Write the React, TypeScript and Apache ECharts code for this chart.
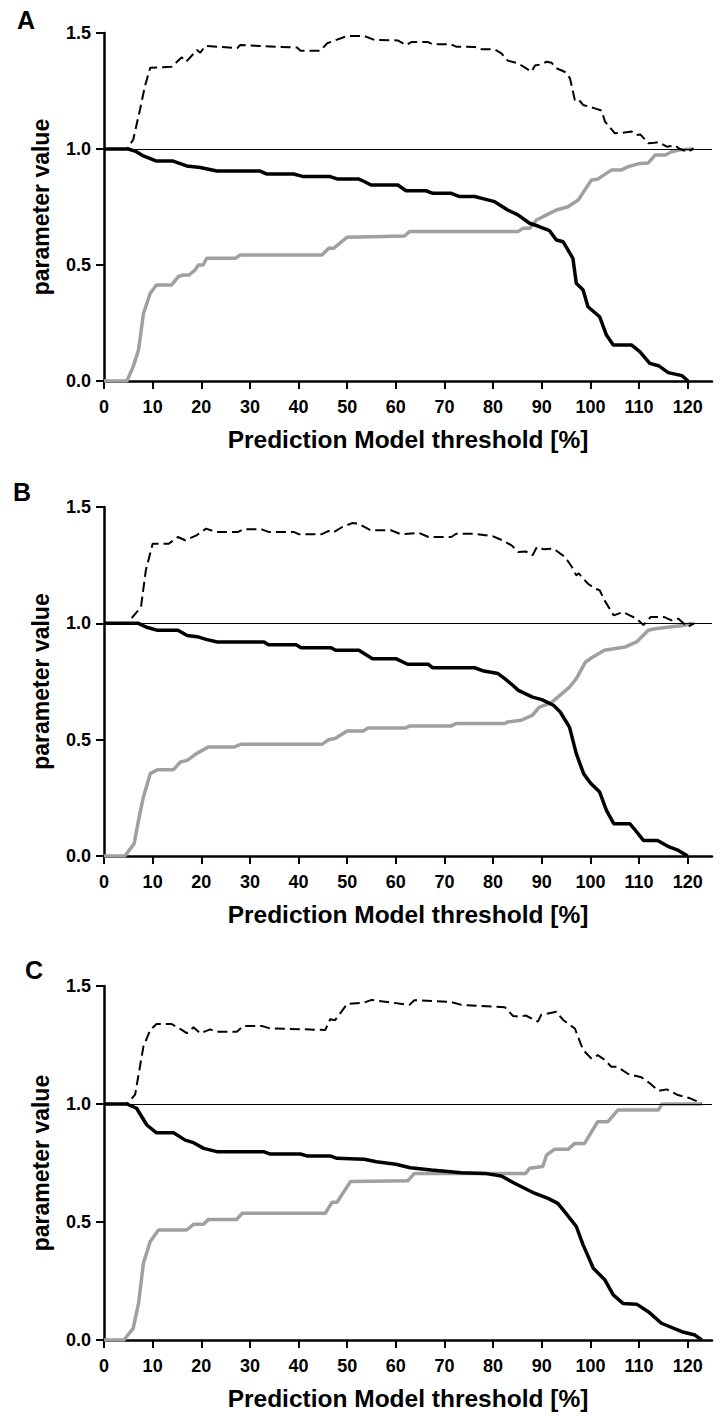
import React, { useEffect, useRef } from "react";
import * as echarts from "echarts";

// ---------- tick labels / categories ----------
const xTicks = [0, 10, 20, 30, 40, 50, 60, 70, 80, 90, 100, 110, 120];
const yTicks = [0, 0.5, 1.0, 1.5];
const panelLabels = ["A", "B", "C"];
const xTitle = "Prediction Model threshold [%]";
const yTitle = "parameter value";

// ---------- Panel A ----------
const aDashX = [0, 4.7, 6, 7.4, 8.4, 9.5, 13.9, 16, 16.9, 19.1, 19.8, 20.8, 27.4, 28, 39.7, 40.4, 44.5, 45.9, 50, 53.5, 55.6, 60.4, 62.1, 63.2, 66.6, 67.6, 71.4, 72.4, 76.2, 77.2, 80.3, 81.7, 83, 85.1, 87.9, 88.6, 89.9, 91, 92, 93, 94.7, 95.8, 96.8, 97.5, 98.5, 100.9, 102.3, 103, 105, 106.5, 108.5, 109.5, 110.3, 111.9, 113.2, 114, 115.7, 117.4, 118.4, 120.1, 121.2];
const aDashY = [1, 1, 1.04, 1.17, 1.27, 1.35, 1.355, 1.395, 1.376, 1.427, 1.415, 1.444, 1.435, 1.448, 1.437, 1.424, 1.424, 1.456, 1.487, 1.487, 1.47, 1.468, 1.448, 1.461, 1.461, 1.451, 1.451, 1.441, 1.44, 1.43, 1.43, 1.412, 1.381, 1.37, 1.333, 1.36, 1.365, 1.376, 1.372, 1.348, 1.333, 1.305, 1.211, 1.215, 1.19, 1.175, 1.166, 1.118, 1.068, 1.07, 1.075, 1.06, 1.062, 1.025, 1.027, 1.03, 1.01, 1.015, 1.0, 0.988, 1.003];
const aBlackX = [0, 5, 6.5, 8.1, 10.8, 14.2, 17, 19.8, 23.2, 32.1, 33.5, 39, 41, 46.5, 47.9, 52.3, 53.5, 54.9, 60.4, 62.1, 66.2, 67.6, 71.4, 73.1, 76.2, 78.3, 80.3, 83, 85.1, 87.5, 89.2, 91.6, 93, 94.4, 96.4, 97.1, 98.5, 99.5, 101.9, 103.3, 104.7, 108.5, 110.2, 112.2, 114, 116, 118.8, 120.1];
const aBlackY = [1, 1, 0.99, 0.97, 0.948, 0.948, 0.927, 0.92, 0.905, 0.905, 0.892, 0.892, 0.881, 0.881, 0.871, 0.871, 0.86, 0.845, 0.845, 0.82, 0.82, 0.809, 0.809, 0.795, 0.795, 0.784, 0.773, 0.737, 0.716, 0.68, 0.668, 0.648, 0.608, 0.6, 0.529, 0.421, 0.392, 0.32, 0.277, 0.198, 0.155, 0.155, 0.126, 0.076, 0.066, 0.036, 0.023, 0];
const aGrayX = [0, 4.7, 6, 7.1, 8.1, 9.5, 10.8, 13.9, 15.3, 16.3, 17.5, 18.7, 19.4, 20.4, 21.1, 27, 28, 44.8, 46.2, 47.2, 50, 61.8, 62.8, 85.1, 86.1, 87.5, 88.9, 91, 93, 95.4, 97.5, 100.2, 101.5, 104.3, 106.3, 107.8, 110.2, 111.9, 113.3, 115.4, 116.7, 118.4, 121.2];
const aGrayY = [0, 0, 0.062, 0.134, 0.29, 0.378, 0.414, 0.414, 0.45, 0.457, 0.457, 0.478, 0.5, 0.5, 0.529, 0.529, 0.543, 0.543, 0.572, 0.572, 0.62, 0.625, 0.644, 0.644, 0.658, 0.658, 0.694, 0.716, 0.737, 0.751, 0.78, 0.866, 0.87, 0.909, 0.909, 0.924, 0.938, 0.94, 0.974, 0.974, 0.988, 0.997, 1.0];

// ---------- Panel B ----------
const bDashX = [0, 4.8, 7.6, 8.6, 10, 13.3, 15.2, 16.7, 19, 21, 22.9, 27.6, 28.6, 32.4, 33.8, 39, 40, 44.8, 46.2, 47.1, 49, 51, 52.4, 54.8, 59, 61, 64.8, 66.7, 71.4, 72.4, 76.2, 80, 81.9, 83.8, 85.2, 86.7, 88.1, 89, 90.5, 92.4, 94.8, 96.2, 97.1, 97.6, 99.5, 101, 101.9, 102.9, 104.8, 106.7, 108.1, 109.5, 110.9, 112.4, 115.2, 116.7, 118.1, 120, 121.4];
const bDashY = [1, 1, 1.07, 1.228, 1.342, 1.342, 1.371, 1.357, 1.378, 1.407, 1.393, 1.393, 1.404, 1.404, 1.393, 1.393, 1.383, 1.383, 1.397, 1.39, 1.414, 1.431, 1.428, 1.4, 1.4, 1.383, 1.388, 1.371, 1.371, 1.385, 1.385, 1.374, 1.357, 1.335, 1.307, 1.309, 1.292, 1.328, 1.318, 1.321, 1.285, 1.242, 1.206, 1.215, 1.17, 1.149, 1.142, 1.099, 1.034, 1.049, 1.034, 1.02, 0.993, 1.027, 1.027, 1.013, 1.02, 0.984, 1.001];
const bBlackX = [0, 7.1, 8.6, 11, 15.2, 17.1, 19.5, 21, 23.3, 32.9, 33.8, 39.5, 40.5, 46.7, 47.6, 52.4, 55.2, 60, 62.4, 66.7, 67.6, 76.2, 78.1, 81, 82.4, 83.8, 85.2, 88.1, 90, 92.4, 93.8, 95.7, 97.1, 98.6, 100, 101.9, 103.3, 104.8, 108.1, 109, 110.9, 113.8, 116.2, 118.1, 120];
const bBlackY = [1, 1, 0.984, 0.97, 0.97, 0.948, 0.941, 0.931, 0.92, 0.92, 0.908, 0.908, 0.895, 0.895, 0.884, 0.884, 0.848, 0.848, 0.824, 0.824, 0.809, 0.809, 0.795, 0.784, 0.762, 0.738, 0.712, 0.683, 0.672, 0.648, 0.619, 0.554, 0.44, 0.354, 0.314, 0.275, 0.196, 0.139, 0.139, 0.117, 0.067, 0.067, 0.039, 0.024, 0];
const bGrayX = [0, 4.3, 6.2, 7.1, 8.1, 9.5, 11, 14.3, 15.7, 17.1, 19, 21.4, 26.7, 28.1, 44.8, 46.2, 47.5, 50, 53.3, 54.3, 61.9, 62.9, 71.4, 72.4, 82.4, 82.9, 85.7, 88.1, 89.5, 91.9, 93.3, 95.7, 97.1, 99, 100.5, 102.9, 104.8, 107.1, 109.5, 111.9, 113.3, 116.2, 119, 121];
const bGrayY = [0, 0, 0.053, 0.153, 0.254, 0.354, 0.371, 0.371, 0.404, 0.411, 0.44, 0.468, 0.468, 0.48, 0.48, 0.5, 0.505, 0.537, 0.537, 0.55, 0.55, 0.559, 0.559, 0.569, 0.569, 0.576, 0.583, 0.605, 0.64, 0.658, 0.683, 0.726, 0.762, 0.834, 0.855, 0.884, 0.891, 0.898, 0.92, 0.97, 0.977, 0.984, 0.991, 1.0];

// ---------- Panel C ----------
const cDashX = [0, 4.7, 6.4, 8.1, 9.5, 10.8, 13.9, 16, 17, 18.4, 19.8, 21.8, 23.2, 27.3, 28.7, 32.4, 34.2, 45.5, 46.5, 47.5, 50, 53.5, 55, 62.8, 63.8, 71.4, 73.5, 82.4, 84.1, 85.5, 86.7, 89.2, 89.9, 93, 94.4, 96.8, 98.5, 100.2, 101.5, 103, 104.3, 105.5, 107.8, 110.5, 112.2, 114, 115.7, 118, 120.5, 122.9];
const cDashY = [1, 1, 1.04, 1.243, 1.314, 1.339, 1.339, 1.314, 1.3, 1.325, 1.299, 1.316, 1.306, 1.306, 1.331, 1.331, 1.32, 1.314, 1.359, 1.355, 1.424, 1.43, 1.441, 1.42, 1.44, 1.432, 1.42, 1.41, 1.373, 1.37, 1.375, 1.349, 1.378, 1.391, 1.356, 1.32, 1.229, 1.193, 1.207, 1.186, 1.158, 1.158, 1.127, 1.113, 1.088, 1.056, 1.062, 1.038, 1.024, 1.003];
const cBlackX = [0, 4.7, 6.7, 8.8, 10.8, 14.3, 16.7, 18.4, 20.5, 23.2, 32.8, 34.2, 40.4, 41.7, 46.5, 47.9, 53.5, 56, 60, 63, 67.3, 73.5, 78.3, 81.7, 84.4, 88.5, 91.3, 93.3, 94.7, 97.1, 98.5, 100.6, 103, 104.7, 106.7, 109.5, 111.9, 114.6, 118.8, 121.5, 122.9];
const cBlackY = [1, 1, 0.982, 0.911, 0.878, 0.878, 0.847, 0.836, 0.812, 0.798, 0.798, 0.788, 0.788, 0.78, 0.78, 0.77, 0.766, 0.755, 0.745, 0.73, 0.72, 0.709, 0.706, 0.695, 0.664, 0.622, 0.6, 0.579, 0.544, 0.481, 0.403, 0.304, 0.254, 0.191, 0.155, 0.152, 0.12, 0.071, 0.035, 0.021, 0];
const cGrayX = [0, 4.1, 6, 7.1, 8.1, 9.5, 11.2, 17, 18.4, 20.4, 21.5, 27.3, 28.4, 45.5, 46.9, 47.9, 50.7, 62.5, 63.8, 86.7, 87.5, 90.2, 91, 92.6, 95.4, 96.8, 98.8, 101.5, 103.6, 105.7, 114, 114.7, 122.9];
const cGrayY = [0, 0, 0.049, 0.155, 0.325, 0.417, 0.466, 0.466, 0.49, 0.49, 0.511, 0.511, 0.537, 0.537, 0.584, 0.584, 0.672, 0.675, 0.706, 0.706, 0.728, 0.735, 0.784, 0.808, 0.808, 0.833, 0.833, 0.925, 0.925, 0.975, 0.975, 1.0, 1.0];

const referenceLevel = 1.0;

const zip = (xs: number[], ys: number[]) => xs.map((x, i) => [x, ys[i]]);

const panels = [
  { dash: zip(aDashX, aDashY), black: zip(aBlackX, aBlackY), gray: zip(aGrayX, aGrayY) },
  { dash: zip(bDashX, bDashY), black: zip(bBlackX, bBlackY), gray: zip(bGrayX, bGrayY) },
  { dash: zip(cDashX, cDashY), black: zip(cBlackX, cBlackY), gray: zip(cGrayX, cGrayY) },
];

const FONT = "'Liberation Sans', Arial, Helvetica, sans-serif";

export default function App() {
  const ref = useRef<HTMLDivElement>(null);
  useEffect(() => {
    document.body.style.margin = "0";
    const chart = echarts.init(ref.current!, null, { renderer: "svg" });
    const gridPos = [
      { top: 33, height: 348 },
      { top: 507, height: 349 },
      { top: 986, height: 354 },
    ];
    const labelPos = [
      { x: 17, y: 7 },
      { x: 13, y: 479 },
      { x: 25, y: 957 },
    ];
    const grid = gridPos.map((g) => ({ left: 104, width: 608, top: g.top, height: g.height }));
    const xAxis = gridPos.map((_, i) => ({
      type: "value",
      gridIndex: i,
      min: 0,
      max: 125,
      name: xTitle,
      nameLocation: "middle",
      nameGap: 46,
      nameTextStyle: { fontFamily: FONT, fontWeight: "bold", fontSize: 24.5, color: "#000" },
      axisLine: { lineStyle: { color: "#000", width: 2.5 } },
      axisTick: { show: true, length: 8, lineStyle: { color: "#000", width: 2 }, customValues: xTicks },
      axisLabel: {
        fontFamily: FONT,
        fontWeight: "bold",
        fontSize: 18,
        color: "#000",
        margin: 17,
        customValues: xTicks,
      },
      splitLine: { show: false },
    }));
    const yAxis = gridPos.map((_, i) => ({
      type: "value",
      gridIndex: i,
      min: 0,
      max: 1.5,
      interval: 0.5,
      name: yTitle,
      nameLocation: "middle",
      nameGap: 52,
      nameTextStyle: { fontFamily: FONT, fontWeight: "bold", fontSize: 23, color: "#000" },
      axisLine: { show: true, lineStyle: { color: "#000", width: 2.5 } },
      axisTick: { show: true, length: 8, lineStyle: { color: "#000", width: 2 } },
      axisLabel: {
        fontFamily: FONT,
        fontWeight: "bold",
        fontSize: 18,
        color: "#000",
        margin: 13,
        formatter: (v: number) => v.toFixed(1),
        customValues: yTicks,
      },
      splitLine: { show: false },
    }));
    const series: any[] = [];
    panels.forEach((p, i) => {
      series.push({
        type: "line",
        xAxisIndex: i,
        yAxisIndex: i,
        data: p.gray,
        showSymbol: false,
        symbol: "none",
        lineStyle: { color: "#a0a0a0", width: 3.5 },
        z: 2,
      });
      series.push({
        type: "line",
        xAxisIndex: i,
        yAxisIndex: i,
        data: p.black,
        showSymbol: false,
        symbol: "none",
        lineStyle: { color: "#000", width: 3.5 },
        z: 3,
      });
      series.push({
        type: "line",
        xAxisIndex: i,
        yAxisIndex: i,
        data: p.dash,
        showSymbol: false,
        symbol: "none",
        lineStyle: { color: "#000", width: 2, type: [10, 5] },
        z: 4,
        markLine: {
          silent: true,
          symbol: ["none", "none"],
          label: { show: false },
          lineStyle: { color: "#000", width: 1, type: "solid" },
          data: [{ yAxis: referenceLevel }],
        },
      });
    });
    const graphic = panelLabels.map((t, i) => ({
      type: "text",
      left: labelPos[i].x,
      top: labelPos[i].y,
      style: { text: t, fontFamily: FONT, fontWeight: "bold", fontSize: 25, fill: "#000" },
    }));
    chart.setOption({
      animation: false,
      backgroundColor: "#fff",
      grid,
      xAxis,
      yAxis,
      series,
      graphic,
    });
    return () => chart.dispose();
  }, []);
  return <div ref={ref} style={{ width: 728, height: 1416 }} />;
}
